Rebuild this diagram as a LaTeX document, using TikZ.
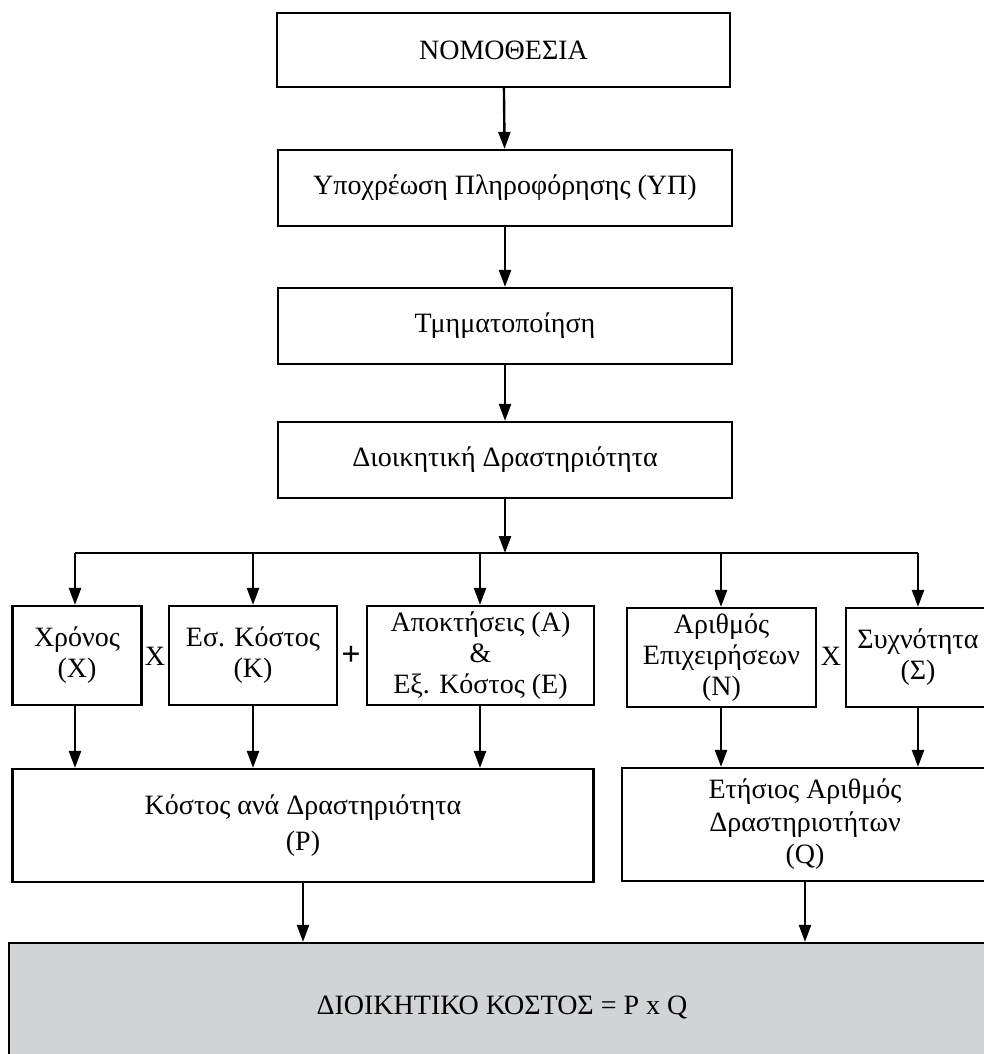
\documentclass[tikz,border=0pt]{standalone}
\usepackage{fontspec}
\setmainfont{Liberation Serif}
\usetikzlibrary{arrows.meta}

\definecolor{costgrey}{RGB}{209,211,212}

\tikzset{
  box/.style={draw, line width=2.2pt, align=center, inner sep=0pt},
  arr/.style={-{Triangle[length=17pt, width=12pt]}, line width=2.4pt},
}

\begin{document}
\begin{tikzpicture}[x=1pt, y=-1pt, line width=2.4pt, font=\fontsize{28}{31}\selectfont]

    % Page size of the reference.
    \useasboundingbox (0,0) rectangle (983,1054);

    % Coordinates for the centers of the boxes.
    \coordinate (L)  at (503.5,  50);
    \coordinate (I)  at (505,   188);
    \coordinate (S)  at (505,   326);
    \coordinate (D)  at (505,   460);
    \coordinate (T1) at ( 77,   655.5);
    \coordinate (T2) at (253,   655.5);
    \coordinate (T3) at (480.5, 655.5);
    \coordinate (T4) at (721.5, 657.5);
    \coordinate (T5) at (918,   657.5);
    \coordinate (P)  at (303,   825.5);
    \coordinate (Q)  at (805,   824.5);
    \coordinate (G)  at (502,  1007);

    % Coordinates on the branching bar.
    \coordinate (split) at (505, 553);
    \coordinate (b1) at ( 75, 553);
    \coordinate (b2) at (253, 553);
    \coordinate (b3) at (480, 553);
    \coordinate (b4) at (721, 553);
    \coordinate (b5) at (918, 553);

    % Main chain of boxes.
    \node[box, minimum width=453pt, minimum height=74pt] (law)      at (L) {ΝΟΜΟΘΕΣΙΑ};
    \node[box, minimum width=454pt, minimum height=76pt] (info)     at (I) {Υποχρέωση Πληροφόρησης (ΥΠ)};
    \node[box, minimum width=454pt, minimum height=76pt] (segm)     at (S) {Τμηματοποίηση};
    \node[box, minimum width=454pt, minimum height=76pt] (activity) at (D) {Διοικητική Δραστηριότητα};

    % The five factors.
    \node[box, minimum width=129pt, minimum height=99pt] (time)    at (T1) {Χρόνος\\(X)};
    \node[box, minimum width=168pt, minimum height=99pt] (intcost) at (T2) {Εσ. Κόστος\\(K)};
    \node[box, minimum width=227pt, minimum height=99pt] (acq)     at (T3) {Αποκτήσεις (A)\\\&\\Εξ. Κόστος (E)};
    \node[box, minimum width=189pt, minimum height=99pt] (firms)   at (T4) {Αριθμός\\Επιχειρήσεων\\(N)};
    \node[box, minimum width=144pt, minimum height=99pt] (freq)    at (T5) {Συχνότητα\\(Σ)};

    % Signs between the factors.
    \node (times1) at (155, 656) {X};
    \node (plus)   at (351, 656) {\fontsize{34}{34}\selectfont\textbf{+}};
    \node (times2) at (831, 656) {X};

    % Results.
    \node[box, minimum width=581pt, minimum height=113pt] (costp)  at (P) {Κόστος ανά Δραστηριότητα\\[5pt](P)};
    \node[box, minimum width=366pt, minimum height=113pt] (annual) at (Q) {Ετήσιος Αριθμός\\[2pt]Δραστηριοτήτων\\[1pt](Q)};
    \node[box, fill=costgrey, minimum width=986pt, minimum height=128pt] (admin) at (G) {ΔΙΟΙΚΗΤΙΚΟ ΚΟΣΤΟΣ = P x Q};

    % Arrows down the chain.
    \draw[arr] (law) -- (info);
    \draw[arr] (info) -- (segm);
    \draw[arr] (segm) -- (activity);
    \draw[arr] (activity) -- (split);

    % Branching bar.
    \draw (b1) -- (b5);
    \draw[arr] (b1) -- (b1 |- time.north);
    \draw[arr] (b2) -- (b2 |- intcost.north);
    \draw[arr] (b3) -- (b3 |- acq.north);
    \draw[arr] (b4) -- (b4 |- firms.north);
    \draw[arr] (b5) -- (b5 |- freq.north);

    % Arrows to the results.
    \draw[arr] (b1 |- time.south)    -- (b1 |- costp.north);
    \draw[arr] (b2 |- intcost.south) -- (b2 |- costp.north);
    \draw[arr] (b3 |- acq.south)     -- (b3 |- costp.north);
    \draw[arr] (b4 |- firms.south)   -- (b4 |- annual.north);
    \draw[arr] (b5 |- freq.south)    -- (b5 |- annual.north);
    \draw[arr] (costp) -- (costp |- admin.north);
    \draw[arr] (annual) -- (annual |- admin.north);
\end{tikzpicture}
\end{document}
